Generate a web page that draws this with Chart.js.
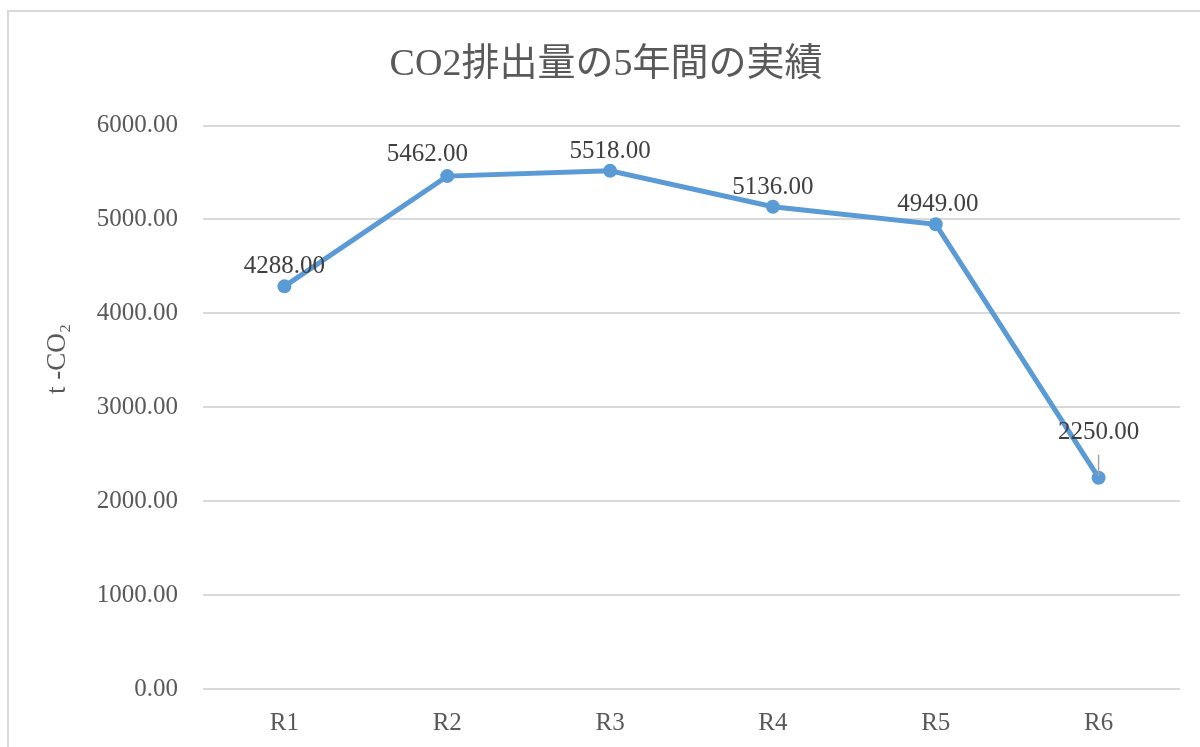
<!DOCTYPE html>
<html lang="ja">
<head>
<meta charset="utf-8">
<title>CO2排出量の5年間の実績</title>
<script src="https://cdn.jsdelivr.net/npm/chart.js@4"></script>
<style>
    html, body { margin: 0; padding: 0; background: #ffffff; }
    #wrap { position: relative; width: 1200px; height: 747px; }
</style>
</head>
<body>
<div id="wrap"><canvas id="co2Chart"></canvas></div>
<script>
// データ
const years = ['R1', 'R2', 'R3', 'R4', 'R5', 'R6'];
const emissions = [4288, 5462, 5518, 5136, 4949, 2250];
const yTicks = [0, 1000, 2000, 3000, 4000, 5000, 6000];

const chartTitle = 'CO2排出量の5年間の実績';
const yTitle = 't -CO\u2082';

const serif = "'Liberation Serif', 'Noto Sans CJK JP', serif";

// 外枠
const framePlugin = {
    id: 'frame',
    beforeDraw(chart) {
        const ctx = chart.ctx;
        ctx.save();
        ctx.strokeStyle = '#d9d9d9';
        ctx.lineWidth = 2;
        ctx.strokeRect(8, 11, 1220, 770);
        ctx.restore();
    }
};

// 縦軸タイトル（少し上寄り）
const yTitlePlugin = {
    id: 'yTitle',
    afterDraw(chart, args, opts) {
        const ctx = chart.ctx;
        ctx.save();
        ctx.translate(opts.x, opts.y);
        ctx.rotate(-Math.PI / 2);
        ctx.font = '27px ' + serif;
        ctx.fillStyle = '#595959';
        ctx.textAlign = 'center';
        ctx.textBaseline = 'middle';
        ctx.fillText(opts.text, 0, 0);
        ctx.restore();
    }
};

// データラベル
const valueLabelPlugin = {
    id: 'valueLabels',
    afterDatasetsDraw(chart, args, opts) {
        const ctx = chart.ctx;
        const meta = chart.getDatasetMeta(0);
        const data = chart.data.datasets[0].data;
        ctx.save();
        ctx.font = '25px ' + serif;
        ctx.fillStyle = '#404040';
        ctx.textAlign = 'center';
        ctx.textBaseline = 'alphabetic';
        meta.data.forEach((pt, i) => {
            const off = opts.offsets[i] || [0, 0];
            const lx = pt.x + off[0];
            const ly = pt.y - 13 + off[1];
            if (opts.leader[i]) {
                ctx.strokeStyle = '#a6a6a6';
                ctx.lineWidth = 1.5;
                ctx.beginPath();
                ctx.moveTo(pt.x, ly + 16);
                ctx.lineTo(pt.x, pt.y - 2);
                ctx.stroke();
            }
            ctx.fillText(data[i].toFixed(2), lx, ly);
        });
        ctx.restore();
    }
};

const ctx = document.getElementById('co2Chart').getContext('2d');
const co2Chart = new Chart(ctx, {
    type: 'line',
    data: {
        labels: years,
        datasets: [{
            label: 'CO2排出量',
            data: emissions,
            borderColor: '#5b9bd5',
            backgroundColor: '#5b9bd5',
            borderWidth: 5,
            pointRadius: 7,
            pointBorderWidth: 0,
            pointBackgroundColor: '#5b9bd5',
            tension: 0,
            fill: false
        }]
    },
    options: {
        responsive: true,
        maintainAspectRatio: false,
        animation: false,
        layout: {
            padding: { left: 12, right: 0, top: 20, bottom: 0 }
        },
        scales: {
            x: {
                offset: true,
                grid: { display: false },
                border: { display: false },
                ticks: {
                    color: '#595959',
                    font: { family: serif, size: 25 },
                    padding: 11,
                    maxRotation: 0
                },
                afterFit(scale) { scale.height = 58; }
            },
            y: {
                min: 0,
                max: 6000,
                afterBuildTicks(scale) {
                    scale.ticks = yTicks.map(v => ({ value: v }));
                },
                grid: {
                    color: '#d9d9d9',
                    lineWidth: 2,
                    drawTicks: false
                },
                border: { display: false },
                ticks: {
                    color: '#595959',
                    font: { family: serif, size: 25 },
                    padding: 25,
                    callback: v => Number(v).toFixed(2)
                },
                afterFit(scale) { scale.width = 191; }
            },
            // 右側の余白用（表示なし）
            yRight: {
                position: 'right',
                min: 0,
                max: 6000,
                grid: { display: false },
                border: { display: false },
                ticks: { display: false },
                afterFit(scale) { scale.width = 20; }
            }
        },
        plugins: {
            legend: { display: false },
            tooltip: { enabled: false },
            title: {
                display: true,
                text: chartTitle,
                color: '#595959',
                font: { family: serif, size: 38, weight: 'normal' },
                padding: { top: 22, bottom: 38 }
            },
            yTitle: { text: yTitle, x: 58, y: 359 },
            valueLabels: {
                offsets: [[0, 0], [-20, -2], [0, 0], [0, 0], [2, 0], [0, -26]],
                leader: [false, false, false, false, false, true]
            }
        }
    },
    plugins: [framePlugin, yTitlePlugin, valueLabelPlugin]
});
</script>
</body>
</html>
